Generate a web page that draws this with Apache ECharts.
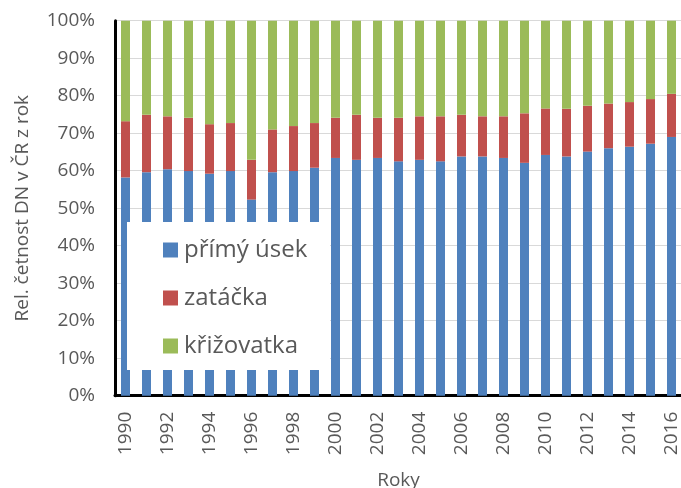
<!DOCTYPE html>
<html>
<head>
<meta charset="utf-8">
<script src="https://cdn.jsdelivr.net/npm/echarts@6/dist/echarts.min.js"></script>
<style>html,body{margin:0;padding:0;background:#fff}#c{width:681px;height:488px}</style>
</head>
<body>
<div id="c"></div>
<script>
const years = ['1990','1991','1992','1993','1994','1995','1996','1997','1998','1999','2000','2001','2002','2003','2004','2005','2006','2007','2008','2009','2010','2011','2012','2013','2014','2015','2016'];
const primyUsek = [58.2,59.6,60.4,59.9,59.2,59.9,52.3,59.6,59.9,60.8,63.4,62.9,63.4,62.5,62.9,62.5,63.8,63.8,63.4,62.1,64.2,63.8,65.1,66.0,66.4,67.2,69.0];
const zatacka = [15.0,15.3,14.1,14.2,13.2,12.8,10.6,11.4,12.0,11.9,10.7,12.0,10.7,11.6,11.6,12.0,11.1,10.7,11.1,13.2,12.4,12.7,12.2,11.9,11.9,11.9,11.5];
const krizovatka = [26.8,25.1,25.5,25.9,27.6,27.3,37.1,29.0,28.1,27.3,25.9,25.1,25.9,25.9,25.5,25.5,25.1,25.5,25.5,24.7,23.4,23.5,22.7,22.1,21.7,20.9,19.5];
const seriesNames = ['přímý úsek','zatáčka','křižovatka'];
const colors = ['#4f81bd','#c0504d','#9bbb59'];
const yTicks = [0,10,20,30,40,50,60,70,80,90,100];

const font = 'Open Sans';
const textColor = '#595959';
const chart = echarts.init(document.getElementById('c'));
const mk = (name, data, i) => ({
  name: name, type: 'bar', stack: 'all', data: data, barWidth: 9,
  itemStyle: {color: colors[i]}
});
chart.setOption({
  animation: false,
  textStyle: {fontFamily: font},
  grid: {left: 115, top: 20.7, width: 567, height: 375, containLabel: false, outerBoundsMode: 'none'},
  graphic: [{type: 'rect', z: 100, shape: {x: 127, y: 222, width: 203, height: 148}, style: {fill: '#ffffff'}}],
  legend: {
    z: 101, orient: 'vertical', left: 158, top: 233, itemGap: 24,
    itemWidth: 15, itemHeight: 15, icon: 'rect',
    textStyle: {fontFamily: font, fontSize: 24, color: textColor, padding: [0,0,0,1]},
    data: seriesNames
  },
  xAxis: {
    type: 'category', data: years,
    name: 'Roky', nameLocation: 'middle', nameGap: 75,
    nameTextStyle: {fontFamily: font, fontSize: 19, color: textColor},
    axisLine: {lineStyle: {color: '#000', width: 3}},
    axisTick: {show: false},
    axisLabel: {rotate: 90, interval: 1, margin: 16, fontFamily: font, fontSize: 19, color: textColor}
  },
  yAxis: {
    type: 'value', min: 0, max: 100, interval: 10,
    name: 'Rel. četnost DN v ČR z rok', nameLocation: 'middle', nameGap: 83,
    nameTextStyle: {fontFamily: font, fontSize: 19, color: textColor},
    axisLine: {show: true, lineStyle: {color: '#000', width: 3}},
    axisTick: {show: false},
    axisLabel: {margin: 20, fontFamily: font, fontSize: 19, color: textColor,
      formatter: v => yTicks.includes(v) ? v + '%' : ''},
    splitLine: {lineStyle: {color: '#d9d9d9', width: 1}}
  },
  series: [mk(seriesNames[0], primyUsek, 0), mk(seriesNames[1], zatacka, 1), mk(seriesNames[2], krizovatka, 2)]
});
</script>
</body>
</html>
